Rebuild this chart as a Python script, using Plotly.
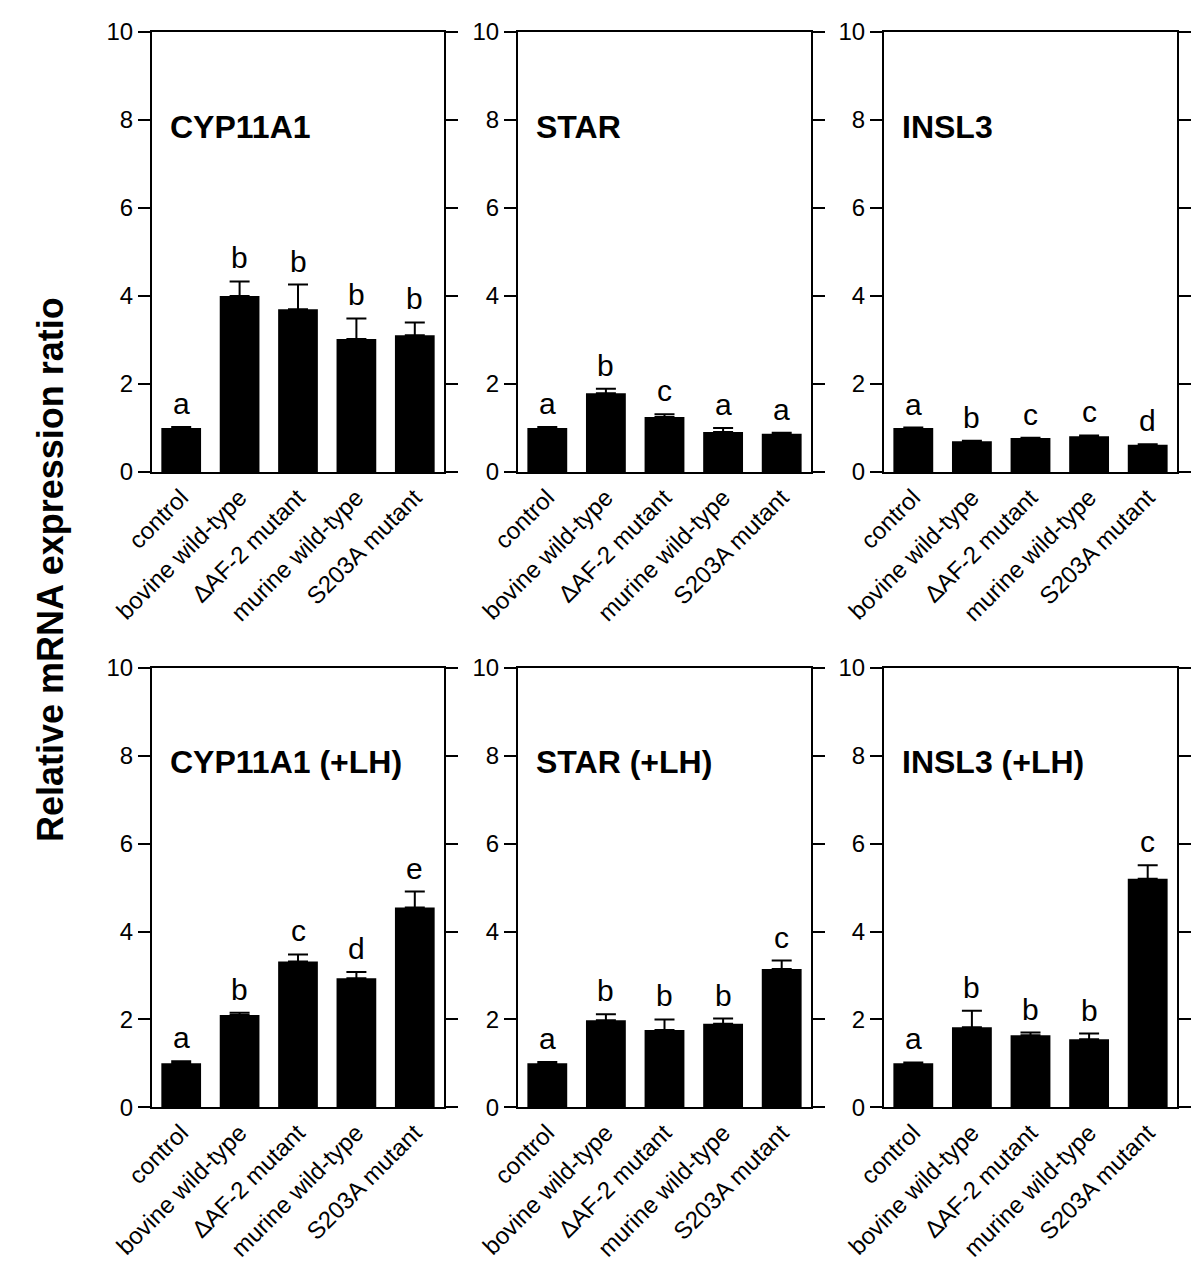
import plotly.graph_objects as go

categories = ["control", "bovine wild-type", "\u0394AF-2 mutant", "murine wild-type", "S203A mutant"]
panel_titles = ["CYP11A1", "STAR", "INSL3", "CYP11A1 (+LH)", "STAR (+LH)", "INSL3 (+LH)"]

cyp11a1_mean = [1.00, 4.00, 3.70, 3.02, 3.11]
cyp11a1_err = [0.02, 0.33, 0.56, 0.47, 0.29]
cyp11a1_sig = ["a", "b", "b", "b", "b"]

star_mean = [1.00, 1.79, 1.25, 0.91, 0.87]
star_err = [0.02, 0.10, 0.06, 0.09, 0.02]
star_sig = ["a", "b", "c", "a", "a"]

insl3_mean = [1.00, 0.70, 0.77, 0.81, 0.62]
insl3_err = [0.01, 0.01, 0.01, 0.02, 0.01]
insl3_sig = ["a", "b", "c", "c", "d"]

cyp11a1_lh_mean = [1.00, 2.10, 3.32, 2.94, 4.55]
cyp11a1_lh_err = [0.05, 0.05, 0.16, 0.14, 0.36]
cyp11a1_lh_sig = ["a", "b", "c", "d", "e"]

star_lh_mean = [1.00, 1.98, 1.76, 1.90, 3.15]
star_lh_err = [0.03, 0.14, 0.24, 0.12, 0.19]
star_lh_sig = ["a", "b", "b", "b", "c"]

insl3_lh_mean = [1.00, 1.82, 1.64, 1.55, 5.20]
insl3_lh_err = [0.02, 0.38, 0.06, 0.13, 0.31]
insl3_lh_sig = ["a", "b", "b", "b", "c"]

y_ticks = [0, 2, 4, 6, 8, 10]
y_title = "Relative mRNA expression ratio"

panels = [
    (cyp11a1_mean, cyp11a1_err, cyp11a1_sig),
    (star_mean, star_err, star_sig),
    (insl3_mean, insl3_err, insl3_sig),
    (cyp11a1_lh_mean, cyp11a1_lh_err, cyp11a1_lh_sig),
    (star_lh_mean, star_lh_err, star_lh_sig),
    (insl3_lh_mean, insl3_lh_err, insl3_lh_sig),
]

OFF = 8  # page body margin
W, H = 1200 - 2 * OFF, 1278 - 2 * OFF
FONT = "Arial, Liberation Sans, sans-serif"


def fx(px):
    return (px - OFF) / W


def fy(py):
    return 1 - (py - OFF) / H


x_doms = [(fx(152), fx(444)), (fx(518), fx(811)), (fx(884), fx(1177))]
y_doms = [(fy(472), fy(32)), (fy(1107.3), fy(668))]

fig = go.Figure()
annotations = []
layout = dict(
    template="none",
    width=W, height=H,
    margin=dict(l=0, r=0, t=0, b=0, autoexpand=False),
    paper_bgcolor="white", plot_bgcolor="white",
    showlegend=False,
    font=dict(family=FONT, color="black"),
)

for i, (mean, err, sig) in enumerate(panels):
    n = i + 1
    xa = "x" if n == 1 else f"x{n}"
    ya = "y" if n == 1 else f"y{n}"
    row, col = divmod(i, 3)
    fig.add_trace(go.Bar(
        x=categories, y=mean, xaxis=xa, yaxis=ya,
        marker=dict(color="black", line=dict(width=0)),
        width=0.68,
        error_y=dict(type="data", array=err, arrayminus=[0] * len(err), symmetric=False,
                     color="black", thickness=2, width=10),
    ))
    layout["xaxis" if n == 1 else f"xaxis{n}"] = dict(
        domain=x_doms[col], anchor=ya, range=[-0.5, 4.5], automargin=False,
        showline=True, linecolor="black", linewidth=2, mirror=True,
        ticks="", tickangle=-45, tickfont=dict(size=24, family=FONT),
        showgrid=False, zeroline=False, fixedrange=True,
    )
    layout["yaxis" if n == 1 else f"yaxis{n}"] = dict(
        domain=y_doms[row], anchor=xa, range=[0, 10], automargin=False,
        tickvals=y_ticks, ticktext=[str(v) for v in y_ticks],
        showline=True, linecolor="black", linewidth=2, mirror="ticks",
        ticks="outside", ticklen=12, tickwidth=2, tickcolor="black",
        tickfont=dict(size=24, family=FONT),
        showgrid=False, zeroline=False, fixedrange=True,
    )
    for j, (m, e, s) in enumerate(zip(mean, err, sig)):
        annotations.append(dict(
            x=categories[j], y=m + e, xref=xa, yref=ya,
            text=s, showarrow=False, yanchor="bottom", yshift=5,
            font=dict(size=30, family=FONT, color="black"),
        ))
    annotations.append(dict(
        x=0.055, y=7.85, xref=f"{xa} domain", yref=ya,
        text=f"<b>{panel_titles[i]}</b>", showarrow=False,
        xanchor="left", yanchor="middle",
        font=dict(size=32, family=FONT, color="black"),
    ))

annotations.append(dict(
    x=fx(50), y=fy(570), xref="paper", yref="paper",
    text=f"<b>{y_title}</b>", showarrow=False, textangle=-90,
    xanchor="center", yanchor="middle",
    font=dict(size=36, family=FONT, color="black"),
))

layout["annotations"] = annotations
fig.update_layout(**layout)
fig.write_html("out.html")
